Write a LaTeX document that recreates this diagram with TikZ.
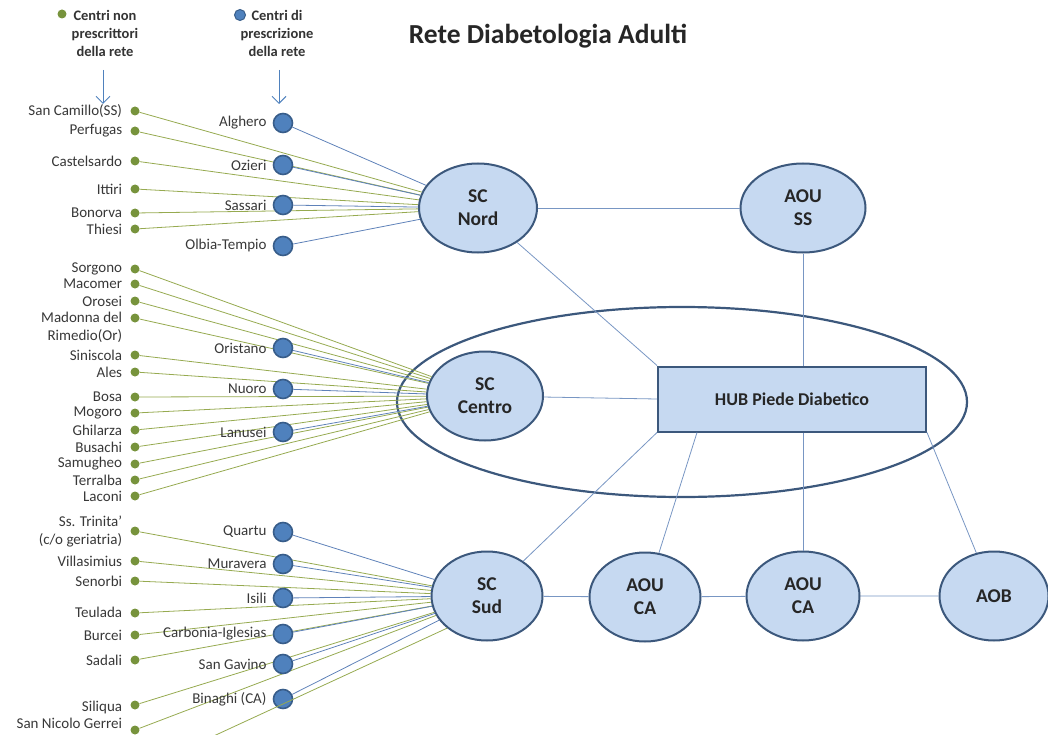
\documentclass[tikz,border=0pt]{standalone}
\usepackage{fontspec}
\setmainfont{Carlito}
\usetikzlibrary{positioning,shapes.geometric,arrows.meta}

\definecolor{hubfill}{RGB}{198,217,241}
\definecolor{hubline}{RGB}{60,88,124}
\definecolor{dotgreen}{RGB}{119,147,60}
\definecolor{dotblue}{RGB}{79,129,189}
\definecolor{dotblueline}{RGB}{56,93,138}
\definecolor{linegreen}{RGB}{150,170,80}
\definecolor{lineblue}{RGB}{95,130,185}
\definecolor{linkblue}{RGB}{120,150,195}

\tikzset{
  bignode/.style={ellipse, draw=hubline, fill=hubfill, line width=2pt, minimum width=118pt, minimum height=89pt, inner sep=0pt, align=center, text=black!85, font=\fontsize{19.5}{23}\selectfont\bfseries},
  gdot/.style={circle, fill=dotgreen, minimum size=9pt, inner sep=0pt},
  bdot/.style={circle, draw=dotblueline, fill=dotblue, line width=1.6pt, minimum size=19pt, inner sep=0pt},
  lbl/.style={inner sep=0pt, align=right, text=black!78, font=\fontsize{15}{18}\selectfont},
  gline/.style={draw=linegreen, line width=0.8pt},
  bline/.style={draw=lineblue, line width=0.8pt},
  link/.style={draw=linkblue, line width=0.8pt},
  legtext/.style={align=center, inner sep=0pt, text=black!80, font=\fontsize{14.5}{18}\selectfont\bfseries},
  legarrow/.style={draw=dotblue, line width=1pt, -{Straight Barb[length=7pt,width=14pt]}},
}

\begin{document}
\begin{tikzpicture}[x=1pt, y=-1pt]
\useasboundingbox (0,0) rectangle (1048,735);

% titolo e legenda
\node[text=black!85, font=\fontsize{27.5}{32}\selectfont\bfseries] (title) at (548,36) {Rete Diabetologia Adulti};
\node[gdot] (gkey) at (62,14) {};
\node[legtext] (gleg) at (105,33) {Centri non\\prescrittori\\della rete};
\node[bdot, minimum size=11pt, line width=1pt] (bkey) at (240,15) {};
\node[legtext] (bleg) at (277,33) {Centri di\\prescrizione\\della rete};
\coordinate (gtop) at (103,70); \coordinate (gtip) at (103,104);
\coordinate (btop) at (279,70); \coordinate (btip) at (279,104);
\draw[legarrow] (gtop) -- (gtip);
\draw[legarrow] (btop) -- (btip);

% nodi principali
\node[ellipse, draw=hubline, line width=2.2pt, minimum width=570pt, minimum height=190pt] (area) at (682,402) {};
\node[bignode] (nord) at (478,208) {SC\\Nord};
\node[bignode, minimum width=125pt] (aouss) at (803,208) {AOU\\SS};
\node[bignode, minimum width=116pt] (centro) at (485,396) {SC\\Centro};
\node[rectangle, draw=hubline, fill=hubfill, line width=2pt, minimum width=268pt, minimum height=65pt, text=black!85, font=\fontsize{18}{21}\selectfont\bfseries] (piede) at (792,399) {HUB Piede Diabetico};
\node[bignode, minimum width=111pt] (sud) at (487,596) {SC\\Sud};
\node[bignode, minimum width=111pt] (aouca) at (645,597) {AOU\\CA};
\node[bignode, minimum width=113pt] (aoucb) at (803,596) {AOU\\CA};
\node[bignode, minimum width=109pt] (aob) at (994,596) {AOB};

\draw[link] (nord) -- (aouss);
\draw[link] (nord) -- (piede.north west);
\draw[link] (aouss) -- (aouss |- piede.north);
\draw[link] (centro) -- (piede.west);
\draw[link] (piede.south west) -- (sud);
\draw[link] ([xshift=40pt]piede.south west) -- (aouca);
\draw[link] (piede.south -| aoucb) -- (aoucb);
\draw[link] (piede.south east) -- (aob);
\draw[link] (sud) -- (aouca) -- (aoucb) -- (aob);

% rete nord
\foreach \y/\t [count=\i] in {111/San Camillo(SS), 131/Perfugas, 161/Castelsardo, 189/Ittiri, 213/Bonorva, 229/Thiesi} {
  \node[gdot] (ng\i) at (135,\y) {};
  \node[lbl, left=8pt of ng\i] (ngl\i) {\t};
  \draw[gline] (ng\i) -- (nord);
}
\foreach \y/\t [count=\i] in {123/Alghero, 165/Ozieri, 205/Sassari, 246/Olbia-Tempio} {
  \node[bdot] (nb\i) at (283,\y) {};
  \node[lbl, left=6pt of nb\i] (nbl\i) {\t};
  \draw[bline] (nb\i) -- (nord);
}

% rete centro
\foreach \y/\t/\dy [count=\i] in {269/Sorgono/0, 284/Macomer/0, 301/Orosei/0, 318/{Madonna del\\Rimedio(Or)}/-9, 355/Siniscola/0, 372/Ales/0, 397/Bosa/0, 413/Mogoro/0, 430/Ghilarza/0, 447/Busachi/0, 464/Samugheo/0, 480/Terralba/0, 496/Laconi/0} {
  \node[gdot] (cg\i) at (135,\y) {};
  \node[lbl, left=8pt of cg\i, yshift=\dy] (cgl\i) {\t};
  \draw[gline] (cg\i) -- (centro);
}
\foreach \y/\t [count=\i] in {348/Oristano, 389/Nuoro, 432/Lanusei} {
  \node[bdot] (cb\i) at (283,\y) {};
  \node[lbl, left=6pt of cb\i] (cbl\i) {\t};
  \draw[bline] (cb\i) -- (centro);
}

% rete sud
\foreach \y/\t/\dy [count=\i] in {531/{Ss. Trinita'\\(c/o geriatria)}/0, 561/Villasimius/0, 581/Senorbi/0, 613/Teulada/1, 635/Burcei/0, 660/Sadali/0, 705/Siliqua/-2, 730/San Nicolo Gerrei/7} {
  \node[gdot] (sg\i) at (135,\y) {};
  \node[lbl, left=8pt of sg\i, yshift=\dy] (sgl\i) {\t};
  \draw[gline] (sg\i) -- (sud);
}
\foreach \y/\t [count=\i] in {532/Quartu, 564/Muravera, 598/Isili, 634/Carbonia-Iglesias, 664/San Gavino, 699/Binaghi (CA)} {
  \node[bdot] (sb\i) at (283,\y) {};
  \node[lbl, left=6pt of sb\i] (sbl\i) {\t};
  \draw[bline] (sb\i) -- (sud);
}
\coordinate (cut) at (205,740);
\draw[gline] (cut) -- (sud.south west);

\end{tikzpicture}
\end{document}
